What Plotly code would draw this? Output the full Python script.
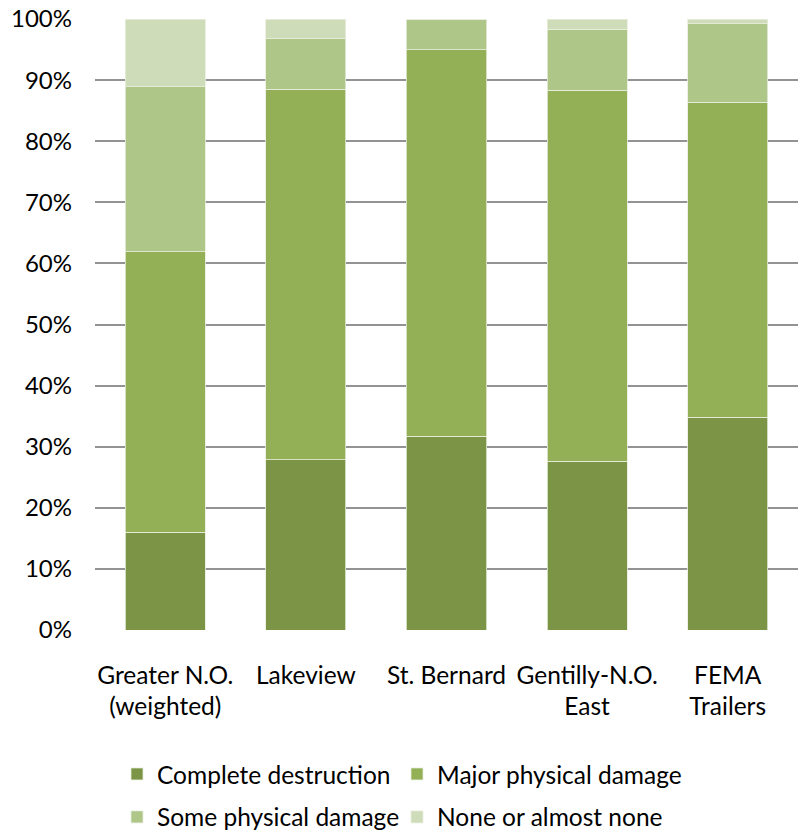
import plotly.graph_objects as go

categories = ["Greater N.O.<br>(weighted)", "Lakeview", "St. Bernard", "Gentilly-N.O.<br>East", "FEMA<br>Trailers"]
complete_destruction = [16.0, 27.9, 31.7, 27.6, 34.8]
major_damage = [45.9, 60.6, 63.3, 60.7, 51.6]
some_damage = [27.0, 8.3, 5.0, 10.0, 12.8]
none_damage = [11.1, 3.2, 0.0, 1.7, 0.8]
y_ticks = [0, 10, 20, 30, 40, 50, 60, 70, 80, 90, 100]
y_tick_labels = [f"{v}%" for v in y_ticks]

series = [
    ("Complete destruction", complete_destruction, "#7B9445", "legend"),
    ("Major physical damage", major_damage, "#93B057", "legend2"),
    ("Some physical damage", some_damage, "#AEC687", "legend3"),
    ("None or almost none", none_damage, "#CFDCB9", "legend4"),
]

FONT = "Lato"
fig = go.Figure()
for name, vals, color, lg in series:
    fig.add_trace(go.Bar(
        x=categories, y=vals, name=name, showlegend=True,
        marker=dict(color=color, line=dict(color="#E8EEDD", width=0.8)),
        legend=lg,
    ))

def legend_at(xf, yf):
    return dict(orientation="h", x=xf, xanchor="left", y=yf, yanchor="middle",
                traceorder="normal", visible=True,
                font=dict(size=24.5, family=FONT, color="#000000"),
                bgcolor="rgba(0,0,0,0)")

col1, col2 = 0.0313, 0.4296
row1, row2 = -0.2357, -0.306

fig.update_layout(
    showlegend=True,
    barmode="stack",
    bargap=0.43,
    width=798, height=835,
    margin=dict(l=95, r=0, t=19, b=205, autoexpand=False),
    plot_bgcolor="white", paper_bgcolor="white",
    font=dict(family=FONT, size=24, color="#000000"),
    legend=legend_at(col1, row1),
    legend2=legend_at(col2, row1),
    legend3=legend_at(col1, row2),
    legend4=legend_at(col2, row2),
)
fig.update_yaxes(range=[0, 100], tickvals=y_ticks, ticktext=y_tick_labels,
                 showgrid=True, gridcolor="#939393", gridwidth=1.6,
                 zeroline=False, showline=False, ticks="", ticklabelstandoff=22,
                 automargin=False, tickfont=dict(size=24, family=FONT))
fig.update_xaxes(showgrid=False, showline=False, ticks="", ticklabelstandoff=28,
                 automargin=False, tickfont=dict(size=24.5, family=FONT))

fig.write_html("out.html", config={"displayModeBar": False},
               post_script="document.body.style.margin='0';document.body.style.padding='0';")
